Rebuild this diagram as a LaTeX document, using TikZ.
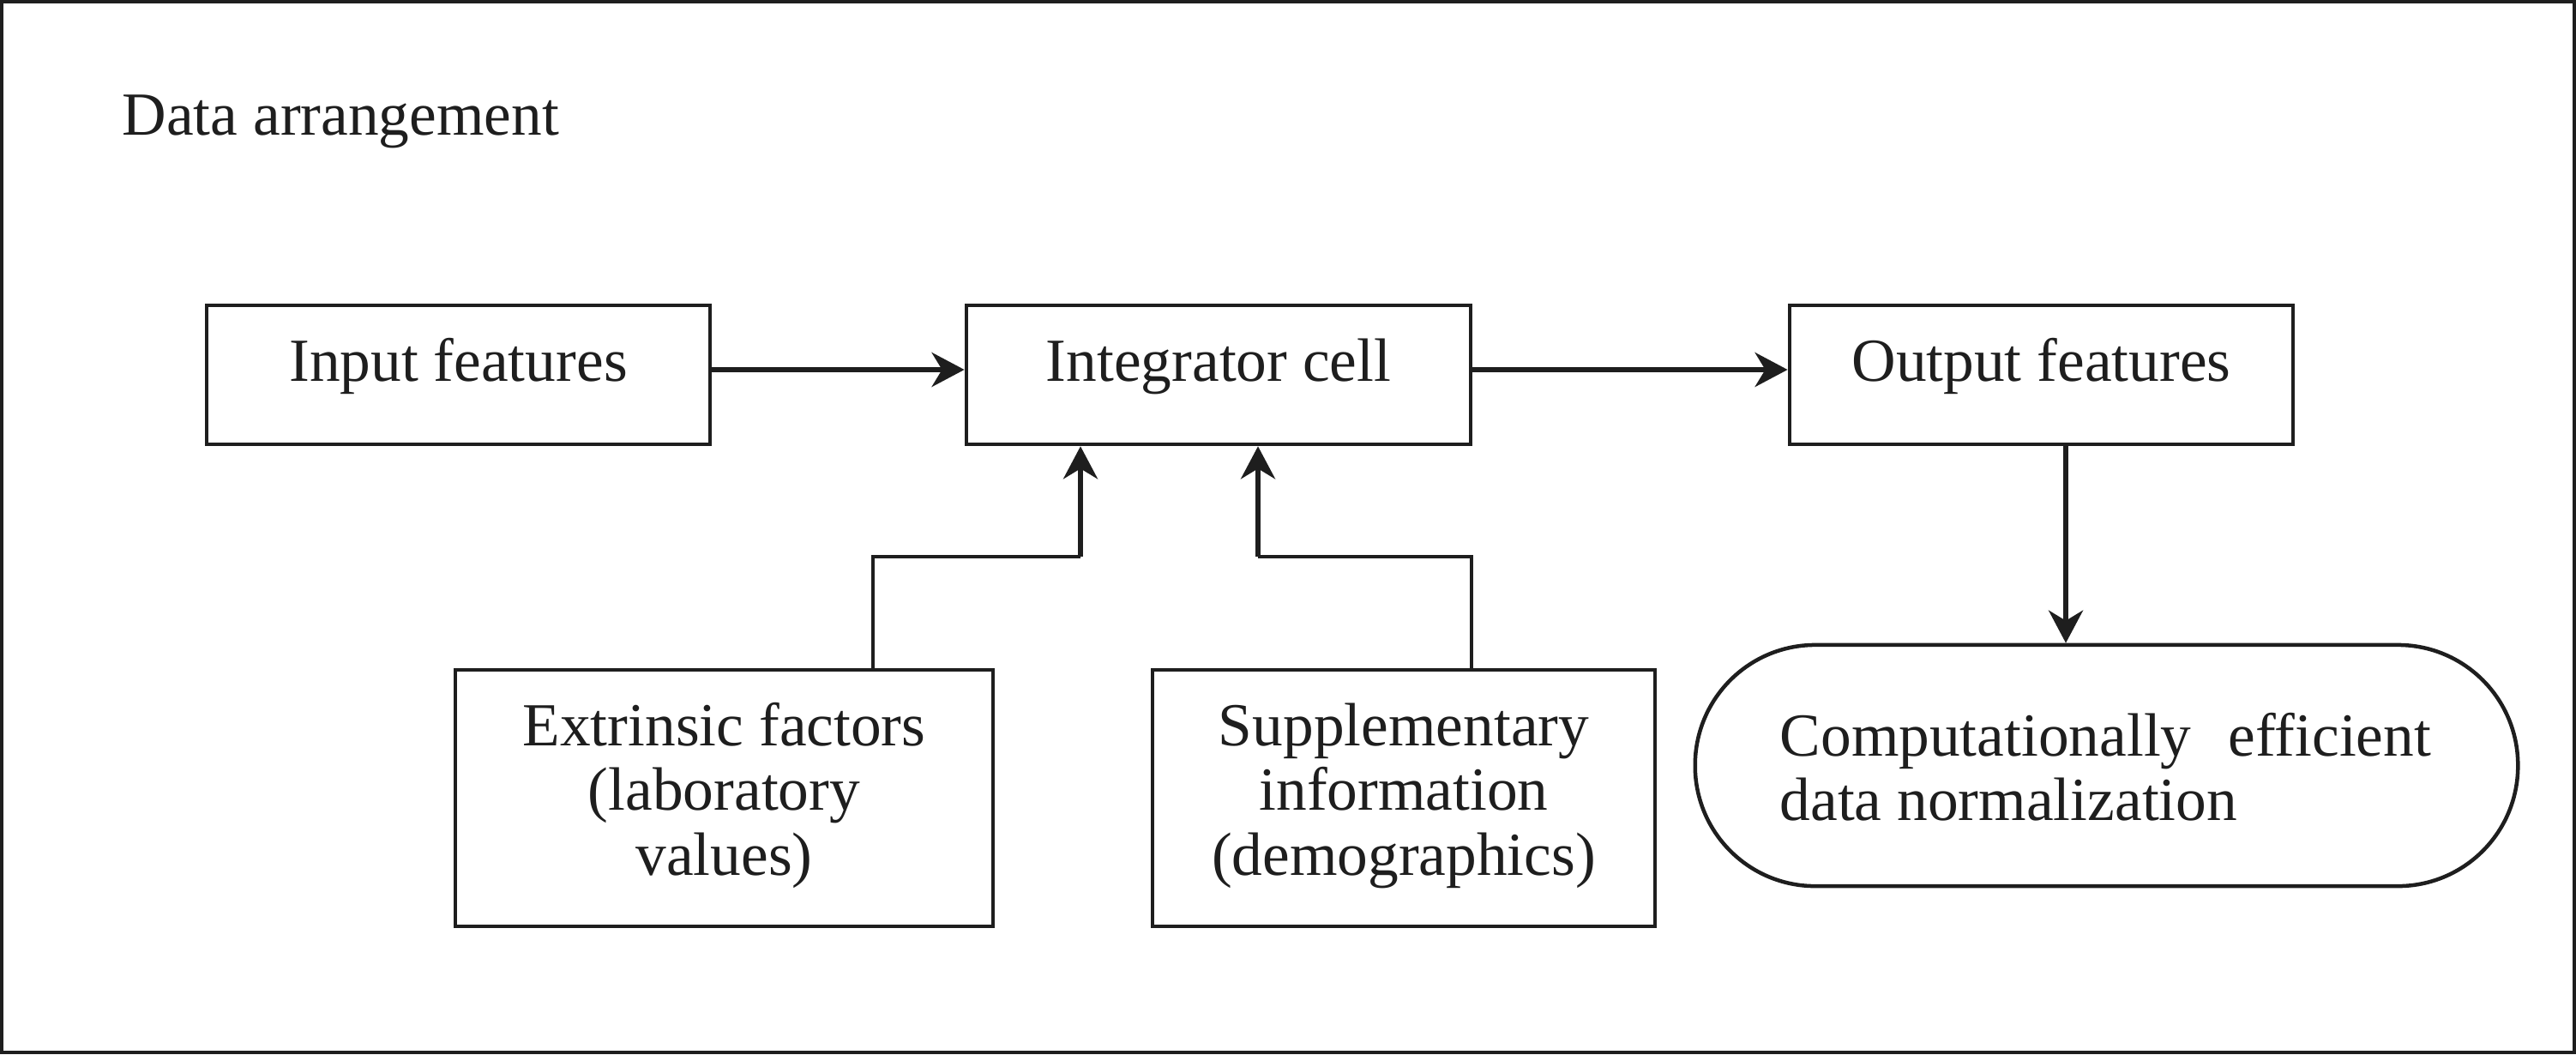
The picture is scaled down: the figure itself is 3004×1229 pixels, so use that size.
\documentclass[tikz,border=0pt]{standalone}
\usepackage{fontspec}
\setmainfont{Liberation Serif}
\usetikzlibrary{arrows.meta}
\definecolor{ink}{RGB}{30,30,30}
\begin{document}
\begin{tikzpicture}[x=0.01cm,y=-0.01cm,
  box/.style={draw=ink,line width=0.045cm,inner sep=0pt,rectangle},
  lbl/.style={anchor=base,inner sep=0pt,text=ink,font=\fontsize{20.3pt}{21.6pt}\selectfont},
  arr/.style={draw=ink,line width=0.055cm,-{Stealth[length=0.38cm,width=0.40cm,inset=0.12cm]}},
  elbow/.style={draw=ink,line width=0.035cm}]
\useasboundingbox (0,0) rectangle (3004,1229);
% frame
\draw[ink,line width=0.04cm] (2,2) rectangle (3002,1227);
% title
\node[lbl,anchor=base west] (title) at (142,157) {Data arrangement};
% top row
\node[box,minimum width=5.87cm,minimum height=1.62cm] (inp) at (534.5,437) {};
\node[lbl] (inpt) at (534.5,444) {Input features};
\node[box,minimum width=5.88cm,minimum height=1.62cm] (int) at (1421,437) {};
\node[lbl] (intt) at (1421,444) {Integrator cell};
\node[box,minimum width=5.87cm,minimum height=1.62cm] (out) at (2380.5,437) {};
\node[lbl] (outt) at (2380.5,444) {Output features};
% bottom row
\node[box,minimum width=6.27cm,minimum height=2.99cm] (ext) at (844.5,930.5) {};
\node[lbl] (extt) at (844.5,869) {\begin{tabular}[t]{@{}c@{}}Extrinsic factors\\(laboratory\\values)\end{tabular}};
\node[box,minimum width=5.86cm,minimum height=2.99cm] (sup) at (1637,930.5) {};
\node[lbl] (supt) at (1637,869) {\begin{tabular}[t]{@{}c@{}}Supplementary\\information\\(demographics)\end{tabular}};
\node[box,rounded corners=1.4cm,minimum width=9.59cm,minimum height=2.81cm] (stad) at (2456.5,892.5) {};
\node[lbl,anchor=base west] (stadt) at (2075,881) {\begin{tabular}[t]{@{}l@{}}Computationally\hspace{0.6em}efficient\\data normalization\end{tabular}};
% connectors
\draw[arr] ([yshift=0.06cm]inp.east) -- ([yshift=0.06cm]int.west);
\draw[arr] ([yshift=0.06cm]int.east) -- ([yshift=0.06cm]out.west);
\draw[arr] ([xshift=0.285cm]out.south) -- ([xshift=0.285cm]out.south |- stad.north);
\coordinate (e1) at (1260,649);
\coordinate (s1) at (1467,649);
\draw[elbow] ([xshift=1.735cm]ext.north) |- (e1);
\draw[arr] (e1) -- (e1 |- int.south);
\draw[elbow] ([xshift=0.79cm]sup.north) |- (s1);
\draw[arr] (s1) -- (s1 |- int.south);
\end{tikzpicture}
\end{document}
